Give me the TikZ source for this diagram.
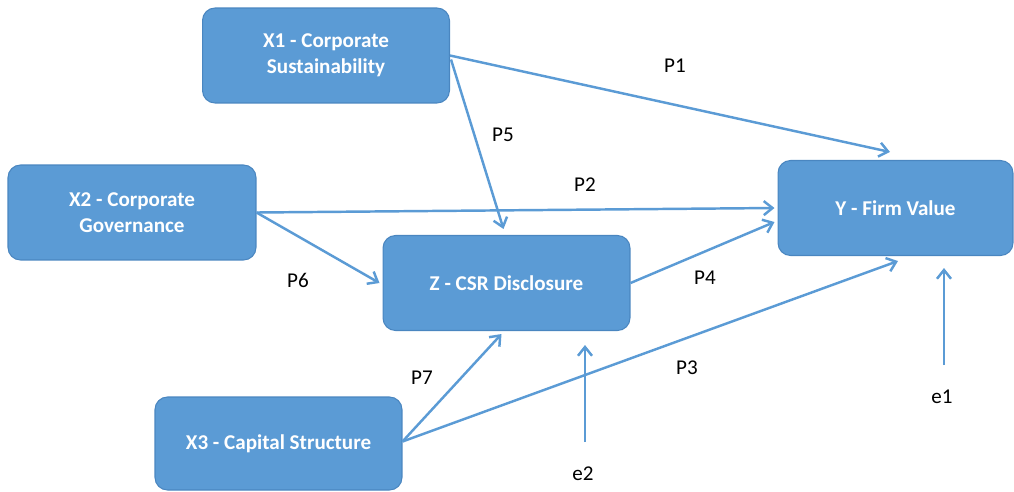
\documentclass[tikz,border=0pt]{standalone}
\usepackage{fontspec}
\setmainfont{Carlito}
\usetikzlibrary{arrows.meta,calc}
\definecolor{boxBlue}{HTML}{5B9BD5}
\definecolor{boxEdge}{HTML}{4A86C0}
\definecolor{lineBlue}{HTML}{5B9BD5}

\begin{document}
\begin{tikzpicture}[x=0.02cm,y=-0.02cm,font=\fontsize{12}{15}\selectfont,
  >={Straight Barb[length=5pt,width=8pt]},
  var/.style={draw=boxEdge,fill=boxBlue,rounded corners=0.25cm,line width=0.6pt,
    text=white,font=\fontsize{12}{15}\selectfont\bfseries,align=center,
    minimum width=4.94cm,minimum height=1.9cm},
  link/.style={->,draw=lineBlue,line width=1.4pt}]
\useasboundingbox (0,0) rectangle (1014,491);
% variables
\node[var] (X1) at (326,55.5) {X1 - Corporate\\Sustainability};
\node[var,minimum width=4.96cm] (X2) at (132,212.5) {X2 - Corporate\\Governance};
\node[var] (Z) at (506.5,283) {Z - CSR Disclosure};
\node[var,minimum width=4.7cm] (Y) at (895.5,208) {Y - Firm Value};
\node[var,minimum height=1.86cm] (X3) at (278.5,443.5) {X3 - Capital Structure};
% paths into Y
\draw[link] (X1.east) -- ($(Y.north)+(-5.5,-8)$);
\draw[link] (X2.east) -- ($(Y.west)+(-3,0)$);
\draw[link] (Z.east) -- ($(Y.west)+(-3,14)$);
\draw[link] ($(X3.east)+(0,-2)$) -- ($(Y.south)+(2.5,5)$);
% paths into Z
\draw[link] ($(X1.east)+(1,4)$) -- ($(Z.north)+(-3,-6)$);
\draw[link] (X2.east) -- ($(Z.west)+(-3,0)$);
\draw[link] ($(X3.east)+(0,-2)$) -- ($(Z.south)+(-5,3)$);
% error terms
\coordinate (e2s) at (585,442);
\draw[link] (e2s) -- ($(e2s |- Z.south)+(0,14)$);
\coordinate (e1s) at (944,365);
\draw[link] (e1s) -- ($(e1s |- Y.south)+(0,12)$);
% labels
\node (lP1) at (675,66) {P1};
\node (lP2) at (585,185) {P2};
\node (lP3) at (687,368) {P3};
\node (lP4) at (705,278) {P4};
\node (lP5) at (503,135) {P5};
\node (lP6) at (298,280) {P6};
\node (lP7) at (422,378) {P7};
\node (le1) at (942,397) {e1};
\node (le2) at (583,474) {e2};
\end{tikzpicture}
\end{document}
